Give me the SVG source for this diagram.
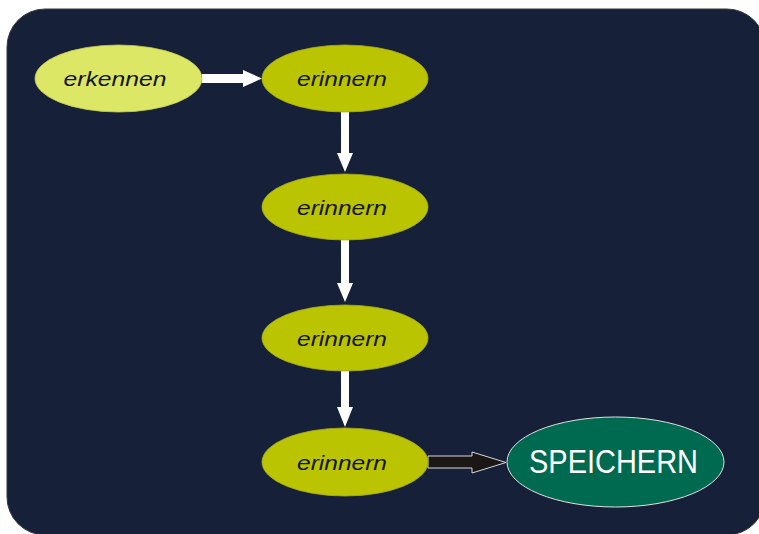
<svg xmlns="http://www.w3.org/2000/svg" width="759" height="534" viewBox="0 0 759 534">
<style>
.lbl{font-family:"Liberation Sans",Arial,sans-serif;font-style:italic;font-size:21px;fill:#141414}
.oval{fill:#bbc400;stroke:#a8ad1a;stroke-width:0.8}
.warr{fill:#ffffff}
</style>
<rect x="0" y="0" width="759" height="534" fill="#ffffff"/>
<rect x="7" y="9" width="758" height="526" rx="38" ry="38" fill="#162039" stroke="#3a3a3a" stroke-width="1"/>
<g id="connectors">
<polygon class="warr" points="202,74 243,74 243,70 262,78.5 243,87 243,83 202,83"/>
<polygon class="warr" points="341,112 349,112 349,153 353,153 345,172 337,153 341,153"/>
<polygon class="warr" points="341,240 349,240 349,283 353,283 345,302 337,283 341,283"/>
<polygon class="warr" points="341,371 349,371 349,407 353,407 345,427 337,407 341,407"/>
<polygon points="428,456 472,456 472,452 506,462.5 472,473 472,468 428,468" fill="#1a1714" stroke="#d8d8d8" stroke-width="1"/>
</g>
<g id="n_erkennen">
<ellipse cx="118.5" cy="78.5" rx="83.5" ry="33.5" fill="#dde766" stroke="#c8cc50" stroke-width="0.8"/>
<text class="lbl" x="115" y="86" text-anchor="middle" textLength="103" lengthAdjust="spacingAndGlyphs">erkennen</text>
</g>
<g id="n_erinnern1">
<ellipse class="oval" cx="345" cy="78.5" rx="83" ry="33.5"/>
<text class="lbl" x="342" y="86" text-anchor="middle" textLength="90" lengthAdjust="spacingAndGlyphs">erinnern</text>
</g>
<g id="n_erinnern2">
<ellipse class="oval" cx="345" cy="207" rx="83" ry="33"/>
<text class="lbl" x="342" y="214.5" text-anchor="middle" textLength="90" lengthAdjust="spacingAndGlyphs">erinnern</text>
</g>
<g id="n_erinnern3">
<ellipse class="oval" cx="345" cy="338" rx="83" ry="33"/>
<text class="lbl" x="342" y="345.5" text-anchor="middle" textLength="90" lengthAdjust="spacingAndGlyphs">erinnern</text>
</g>
<g id="n_erinnern4">
<ellipse class="oval" cx="345" cy="462" rx="83" ry="34"/>
<text class="lbl" x="342" y="469.5" text-anchor="middle" textLength="90" lengthAdjust="spacingAndGlyphs">erinnern</text>
</g>
<g id="n_speichern">
<ellipse cx="615.5" cy="462" rx="108.5" ry="45" fill="#006a50" stroke="#e0e0e0" stroke-width="1"/>
<text x="613.5" y="473" text-anchor="middle" font-family="'Liberation Sans',Arial,sans-serif" font-size="34" fill="#ffffff" textLength="169" lengthAdjust="spacingAndGlyphs">SPEICHERN</text>
</g>
</svg>
